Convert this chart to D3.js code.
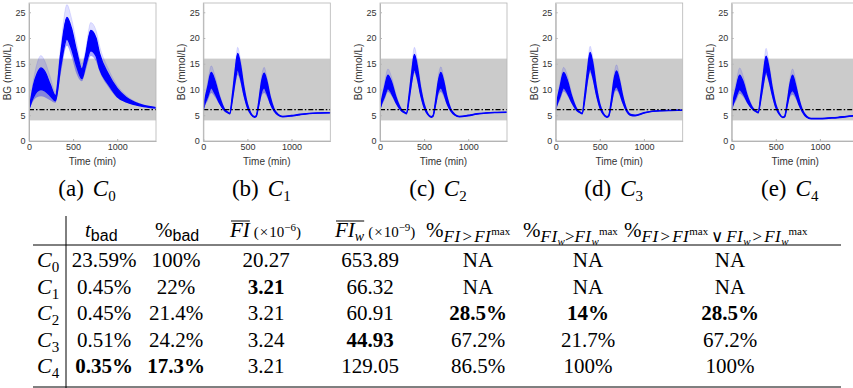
<!DOCTYPE html>
<html>
<head>
<meta charset="utf-8">
<script src="https://cdn.jsdelivr.net/npm/d3@7"></script>
<style>
  body { margin: 0; background: #fff; }
  svg { display: block; }
</style>
</head>
<body>
<div id="chart"></div>
<script>
// time grids (min)
const timesC0 = [0, 20, 50, 90, 135, 180, 240, 300, 360, 430, 480, 540, 600, 640, 700, 760, 800, 900, 1000, 1100, 1200, 1300, 1440];
const timesC = [0, 20, 50, 90, 130, 180, 240, 280, 300, 330, 360, 390, 420, 460, 500, 540, 580, 600, 630, 660, 690, 720, 760, 800, 850, 900, 1000, 1100, 1200, 1300, 1440];

// C0 envelope of the simulated BG curves (faint min, dense low, dense high, faint max)
const c0Min = [6.1, 6.8, 7.8, 8.5, 8.7, 8.5, 7.9, 7.4, 13.0, 18.5, 16.5, 13.0, 11.6, 13.5, 16.5, 15.5, 13.5, 10.5, 8.4, 7.5, 7.0, 6.7, 6.4];
const c0Lo  = [6.1, 7.2, 8.5, 9.6, 10.0, 9.7, 8.8, 7.8, 14.5, 19.8, 18.0, 14.5, 12.1, 14.5, 17.5, 16.5, 14.0, 11.0, 8.6, 7.6, 7.05, 6.7, 6.4];
const c0Hi  = [6.1, 8.0, 10.8, 13.0, 14.2, 13.5, 11.0, 8.8, 17.0, 24.0, 22.0, 17.5, 14.0, 16.5, 21.5, 20.0, 17.0, 13.0, 10.2, 8.5, 7.5, 6.9, 6.5];
const c0Max = [6.1, 8.5, 11.8, 15.0, 16.6, 15.5, 12.5, 9.5, 18.5, 26.5, 24.0, 19.0, 15.0, 17.5, 23.0, 21.5, 18.5, 14.0, 10.8, 8.9, 7.7, 7.0, 6.55];

const c1Min = [6.1, 6.9, 7.8, 9.3, 8.6, 7.2, 5.8, 5.4, 5.2, 7.5, 10.5, 12.8, 11.5, 8.5, 6.3, 5.1, 4.6, 4.7, 6.5, 8.7, 9.3, 8.6, 7.0, 5.8, 5.0, 4.7, 4.85, 5.1, 5.3, 5.4, 5.45];
const c1Lo  = [6.1, 7.3, 8.6, 10.3, 9.3, 7.5, 5.9, 5.45, 5.25, 8.0, 11.5, 13.8, 12.3, 9.0, 6.5, 5.15, 4.6, 4.75, 7.0, 9.5, 10.3, 9.3, 7.3, 5.9, 5.0, 4.7, 4.85, 5.1, 5.3, 5.4, 5.45];
const c1Hi  = [6.1, 8.2, 10.5, 13.3, 11.8, 8.8, 6.2, 5.6, 5.4, 9.0, 13.5, 17.0, 15.0, 10.5, 7.2, 5.4, 4.75, 4.9, 7.8, 11.5, 13.2, 11.7, 8.5, 6.3, 5.15, 4.8, 4.95, 5.2, 5.35, 5.45, 5.5];
const c1Max = [6.1, 8.6, 11.5, 14.6, 12.8, 9.4, 6.4, 5.7, 5.5, 9.5, 14.5, 18.2, 16.0, 11.2, 7.5, 5.5, 4.8, 5.0, 8.2, 12.5, 14.3, 12.5, 9.0, 6.5, 5.2, 4.85, 5.0, 5.2, 5.4, 5.5, 5.55];

const c2Min = [6.1, 6.9, 7.9, 9.5, 8.8, 7.2, 5.8, 5.4, 5.2, 7.6, 10.8, 13.2, 11.7, 8.6, 6.3, 5.1, 4.6, 4.7, 6.5, 8.8, 9.5, 8.7, 7.0, 5.8, 5.0, 4.7, 4.9, 5.2, 5.4, 5.5, 5.55];
const c2Lo  = [6.1, 7.3, 8.6, 10.2, 9.3, 7.5, 5.9, 5.45, 5.25, 8.0, 11.6, 13.8, 12.4, 9.0, 6.5, 5.15, 4.6, 4.75, 7.0, 9.6, 10.3, 9.4, 7.3, 5.9, 5.0, 4.7, 4.9, 5.2, 5.4, 5.5, 5.55];
const c2Hi  = [6.1, 8.1, 10.3, 12.8, 11.5, 8.6, 6.2, 5.6, 5.4, 9.0, 13.4, 16.8, 14.8, 10.4, 7.2, 5.4, 4.75, 4.9, 7.8, 11.5, 13.3, 11.8, 8.5, 6.3, 5.15, 4.8, 5.0, 5.3, 5.45, 5.55, 5.6];
const c2Max = [6.1, 8.5, 11.2, 14.0, 12.5, 9.2, 6.4, 5.7, 5.5, 9.5, 14.4, 18.2, 16.0, 11.2, 7.5, 5.5, 4.8, 5.0, 8.2, 12.5, 14.4, 12.6, 9.0, 6.5, 5.2, 4.85, 5.05, 5.35, 5.5, 5.6, 5.65];

const c3Min = [6.1, 6.9, 7.9, 9.6, 8.9, 7.3, 5.8, 5.4, 5.2, 7.6, 10.9, 13.3, 11.8, 8.7, 6.3, 5.1, 4.6, 4.7, 6.6, 9.0, 9.8, 9.0, 7.2, 5.8, 5.0, 4.9, 5.4, 5.75, 5.85, 5.9, 5.95];
const c3Lo  = [6.1, 7.3, 8.7, 10.3, 9.4, 7.6, 5.9, 5.45, 5.25, 8.0, 11.8, 14.0, 12.5, 9.1, 6.5, 5.15, 4.6, 4.75, 7.1, 9.8, 10.5, 9.6, 7.5, 5.9, 5.0, 4.9, 5.4, 5.75, 5.85, 5.9, 5.95];
const c3Hi  = [6.1, 8.2, 10.6, 13.3, 11.9, 8.8, 6.2, 5.6, 5.4, 9.1, 13.7, 17.2, 15.2, 10.6, 7.2, 5.4, 4.75, 4.9, 7.9, 11.8, 13.6, 12.0, 8.7, 6.3, 5.15, 5.0, 5.5, 5.8, 5.9, 5.95, 6.0];
const c3Max = [6.1, 8.6, 11.5, 14.3, 12.9, 9.4, 6.4, 5.7, 5.5, 9.6, 14.7, 18.4, 16.3, 11.4, 7.5, 5.5, 4.8, 5.0, 8.3, 12.8, 14.8, 12.9, 9.2, 6.5, 5.2, 5.05, 5.55, 5.85, 5.95, 6.0, 6.05];

const c4Min = [6.1, 6.9, 7.8, 9.2, 8.6, 7.2, 6.0, 5.6, 5.4, 7.5, 10.3, 12.8, 11.3, 8.5, 6.3, 5.1, 4.5, 4.6, 6.4, 8.5, 9.0, 8.4, 6.9, 5.6, 4.6, 4.3, 4.3, 4.4, 4.5, 4.7, 4.9];
const c4Lo  = [6.1, 7.3, 8.6, 10.0, 9.2, 7.5, 6.1, 5.65, 5.45, 8.0, 11.2, 13.5, 12.0, 9.0, 6.5, 5.15, 4.55, 4.65, 6.9, 9.2, 9.8, 9.1, 7.2, 5.7, 4.6, 4.3, 4.3, 4.4, 4.5, 4.7, 4.9];
const c4Hi  = [6.1, 8.1, 10.3, 12.8, 11.5, 8.6, 6.4, 5.8, 5.6, 9.0, 13.2, 16.5, 14.5, 10.3, 7.1, 5.4, 4.65, 4.8, 7.6, 11.0, 12.8, 11.2, 8.3, 6.1, 4.8, 4.4, 4.4, 4.5, 4.6, 4.8, 5.0];
const c4Max = [6.1, 8.5, 11.3, 14.2, 12.6, 9.2, 6.6, 5.9, 5.7, 9.5, 14.2, 18.0, 15.5, 11.0, 7.4, 5.5, 4.7, 4.9, 8.0, 12.0, 14.0, 12.3, 8.8, 6.3, 4.9, 4.45, 4.45, 4.55, 4.65, 4.85, 5.05];

const yTicks = [0, 5, 10, 15, 20, 25];
const xTicks = [0, 500, 1000];
const safeLow = 4, safeHigh = 16, targetBG = 6.1;
const captionLetters = ['a', 'b', 'c', 'd', 'e'];

// table
const rowNames = ['0', '1', '2', '3', '4'];
const tBad = ['23.59%', '0.45%', '0.45%', '0.51%', '0.35%'];
const pctBad = ['100%', '22%', '21.4%', '24.2%', '17.3%'];
const fiMean = ['20.27', '3.21', '3.21', '3.24', '3.21'];
const fiwMean = ['653.89', '66.32', '60.91', '44.93', '129.05'];
const pctFi = ['NA', 'NA', '28.5%', '67.2%', '86.5%'];
const pctFiw = ['NA', 'NA', '14%', '21.7%', '100%'];
const pctEither = ['NA', 'NA', '28.5%', '67.2%', '100%'];
const boldCells = [[1, 2], [2, 4], [2, 5], [2, 6], [3, 3], [4, 0], [4, 1]];

const serif = '"Liberation Serif", "Times New Roman", serif';
const sans = '"Liberation Sans", Arial, Helvetica, sans-serif';

const panels = [
  { t: timesC0, min: c0Min, lo: c0Lo, hi: c0Hi, max: c0Max },
  { t: timesC, min: c1Min, lo: c1Lo, hi: c1Hi, max: c1Max },
  { t: timesC, min: c2Min, lo: c2Lo, hi: c2Hi, max: c2Max },
  { t: timesC, min: c3Min, lo: c3Lo, hi: c3Hi, max: c3Max },
  { t: timesC, min: c4Min, lo: c4Lo, hi: c4Hi, max: c4Max },
];

const svg = d3.select('#chart').append('svg').attr('width', 853).attr('height', 388);
svg.append('rect').attr('width', 853).attr('height', 388).attr('fill', '#fff');

const panelLeft = [29, 203.3, 380, 555.7, 731.7];
const plotW = 127, plotTop = 3, plotBottom = 141;
const y = d3.scaleLinear().domain([0, 26.8]).range([plotBottom, plotTop]);

function richText(parent, x, yPos, parts, opts = {}) {
  const text = parent.append('text')
    .attr('x', x).attr('y', yPos)
    .attr('text-anchor', opts.anchor || 'start')
    .attr('font-family', serif)
    .attr('font-size', opts.size || 21)
    .attr('fill', '#000');
  let off = 0, chars = 0;
  const overRanges = [];
  parts.forEach(p => {
    const ts = text.append('tspan').text(p.s).attr('dy', (p.off || 0) - off);
    if (p.dx) ts.attr('dx', p.dx);
    if (p.size) ts.attr('font-size', p.size);
    if (p.it) ts.attr('font-style', 'italic');
    if (p.sans) ts.attr('font-family', sans);
    if (p.bold) ts.attr('font-weight', 'bold');
    if (p.ls) ts.attr('letter-spacing', p.ls);
    if (p.over) overRanges.push([chars, chars + p.s.length - 1]);
    off = p.off || 0;
    chars += p.s.length;
  });
  if (overRanges.length) {
    const node = text.node();
    const x0 = d3.min(overRanges, r => node.getStartPositionOfChar(r[0]).x);
    const x1 = d3.max(overRanges, r => node.getEndPositionOfChar(r[1]).x);
    parent.append('line')
      .attr('x1', x0 + 1).attr('x2', x1)
      .attr('y1', yPos - 16).attr('y2', yPos - 16)
      .attr('stroke', '#000').attr('stroke-width', 1);
  }
  return text;
}

function styleAxis(sel) {
  sel.select('.domain').attr('stroke', '#b5b5b5');
  sel.selectAll('.tick line').attr('stroke', '#b5b5b5');
  sel.selectAll('.tick text')
    .attr('font-family', sans)
    .attr('font-size', 9)
    .attr('fill', '#333');
}

panels.forEach((p, i) => {
  const left = panelLeft[i];
  const x = d3.scaleLinear().domain([0, 1440]).range([left, left + plotW]);
  const g = svg.append('g');

  svg.append('clipPath').attr('id', 'clip' + i)
    .append('rect')
    .attr('x', left).attr('y', plotTop)
    .attr('width', plotW).attr('height', plotBottom - plotTop);
  const body = g.append('g').attr('clip-path', `url(#clip${i})`);

  // safe BG range
  body.append('rect')
    .attr('x', left).attr('width', plotW)
    .attr('y', y(safeHigh)).attr('height', y(safeLow) - y(safeHigh))
    .attr('fill', '#cbcbcb');

  const idx = d3.range(p.t.length);
  const band = (a, b) => d3.area()
    .x(k => x(p.t[k]))
    .y0(k => y(a[k]))
    .y1(k => y(b[k]))
    .curve(d3.curveMonotoneX)(idx);
  const line = a => d3.line()
    .x(k => x(p.t[k]))
    .y(k => y(a[k]))
    .curve(d3.curveMonotoneX)(idx);

  body.append('path').attr('d', band(p.min, p.max)).attr('fill', '#0000ff').attr('opacity', 0.12);
  body.append('path').attr('d', band(p.min, p.hi)).attr('fill', '#0000ff').attr('opacity', 0.25);
  body.append('path').attr('d', band(p.lo, p.hi)).attr('fill', '#0000ff');
  body.append('path').attr('d', line(p.max)).attr('fill', 'none')
    .attr('stroke', '#0000ff').attr('stroke-opacity', 0.18).attr('stroke-width', 0.6);
  [p.lo, p.hi].forEach(a => {
    body.append('path').attr('d', line(a)).attr('fill', 'none')
      .attr('stroke', '#0000ff').attr('stroke-width', 1.3);
  });

  // target BG
  body.append('line')
    .attr('x1', left).attr('x2', left + plotW)
    .attr('y1', y(targetBG)).attr('y2', y(targetBG))
    .attr('stroke', '#000').attr('stroke-width', 1.3)
    .attr('stroke-dasharray', '5,2,1.5,2');

  g.append('g')
    .attr('transform', `translate(0,${plotBottom})`)
    .call(d3.axisBottom(x).tickValues(xTicks).tickFormat(d3.format('d'))
      .tickSizeInner(-2).tickSizeOuter(0).tickPadding(3))
    .call(styleAxis);
  g.append('g')
    .attr('transform', `translate(${left},0)`)
    .call(d3.axisLeft(y).tickValues(yTicks).tickFormat(d3.format('d'))
      .tickSizeInner(-2).tickSizeOuter(0).tickPadding(3.5))
    .call(styleAxis);
  g.append('rect')
    .attr('x', left).attr('y', plotTop)
    .attr('width', plotW).attr('height', plotBottom - plotTop)
    .attr('fill', 'none').attr('stroke', '#b5b5b5').attr('stroke-width', 0.8);

  g.append('text')
    .attr('x', left + plotW / 2).attr('y', 165)
    .attr('text-anchor', 'middle')
    .attr('font-family', sans).attr('font-size', 10).attr('fill', '#333')
    .text('Time (min)');
  g.append('text')
    .attr('transform', `translate(${left - 18},${(plotTop + plotBottom) / 2}) rotate(-90)`)
    .attr('text-anchor', 'middle')
    .attr('font-family', sans).attr('font-size', 10).attr('fill', '#333')
    .text('BG (mmol/L)');

  richText(svg, left + 58, 196, [
    { s: `(${captionLetters[i]})` },
    { s: 'C', it: 1, dx: 9 },
    { s: rowNames[i], size: 15, off: 5 },
  ], { anchor: 'middle', size: 23 });
});

// ---- table ----
const table = svg.append('g');
const headBase = 237;
const rowBase = [267, 293.6, 320.2, 346.8, 373.4];
const colX = [104, 176, 266, 370, 478, 588, 730];
const columns = [tBad, pctBad, fiMean, fiwMean, pctFi, pctFiw, pctEither];

const sub = (s, extra = {}) => Object.assign({ s, it: 1, size: 17, off: 5, ls: 0.5 }, extra);
const rel = (s, gap) => ({ s, size: 17, off: 5, dx: gap });
const supMax = { s: 'max', size: 11, off: -2 };
const subW = { s: 'w', it: 1, size: 11, off: 8 };
const scale = (exp) => [
  { s: '(', size: 15, dx: 4 }, { s: '×', size: 15, dx: 1 }, { s: '10', size: 15, dx: 1 },
  { s: exp, size: 11, off: -6 }, { s: ')', size: 15 },
];

const headers = [
  { x: 85, parts: [{ s: 't', it: 1 }, { s: 'bad', sans: 1, size: 16, off: 4 }] },
  { x: 155, parts: [{ s: '%' }, { s: 'bad', sans: 1, size: 16, off: 4 }] },
  { x: 230, parts: [{ s: 'FI', it: 1, over: 1 }, ...scale('−6')] },
  { x: 335, parts: [{ s: 'FI', it: 1, over: 1 }, { s: 'w', it: 1, size: 14, off: 4, over: 1 }, ...scale('−9')] },
  { x: 426, parts: [{ s: '%' }, sub('FI'), rel('>', 2), sub('FI', { dx: 2 }), supMax] },
  { x: 523, parts: [{ s: '%' }, sub('FI'), subW, rel('>', 0), sub('FI'), subW, supMax] },
  { x: 624, parts: [{ s: '%' }, sub('FI'), rel('>', 2), sub('FI', { dx: 2 }), supMax, rel('∨', 3),
    sub('FI', { dx: 3 }), subW, rel('>', 2), sub('FI', { dx: 2 }), subW, supMax] },
];
headers.forEach(h => richText(table, h.x, headBase, h.parts));

rowNames.forEach((name, r) => {
  richText(table, 37, rowBase[r], [{ s: 'C', it: 1 }, { s: name, size: 15, off: 5 }], { size: 22 });
  columns.forEach((col, c) => {
    const bold = boldCells.some(b => b[0] === r && b[1] === c);
    table.append('text')
      .attr('x', colX[c]).attr('y', rowBase[r])
      .attr('text-anchor', 'middle')
      .attr('font-family', serif).attr('font-size', 21)
      .attr('font-weight', bold ? 'bold' : 'normal')
      .text(col[r]);
  });
});

table.append('line').attr('x1', 33).attr('x2', 841).attr('y1', 245).attr('y2', 245)
  .attr('stroke', '#000').attr('stroke-width', 1);
table.append('line').attr('x1', 33).attr('x2', 841).attr('y1', 387).attr('y2', 387)
  .attr('stroke', '#000').attr('stroke-width', 1);
table.append('line').attr('x1', 66).attr('x2', 66).attr('y1', 216).attr('y2', 388)
  .attr('stroke', '#000').attr('stroke-width', 1);
</script>
</body>
</html>
